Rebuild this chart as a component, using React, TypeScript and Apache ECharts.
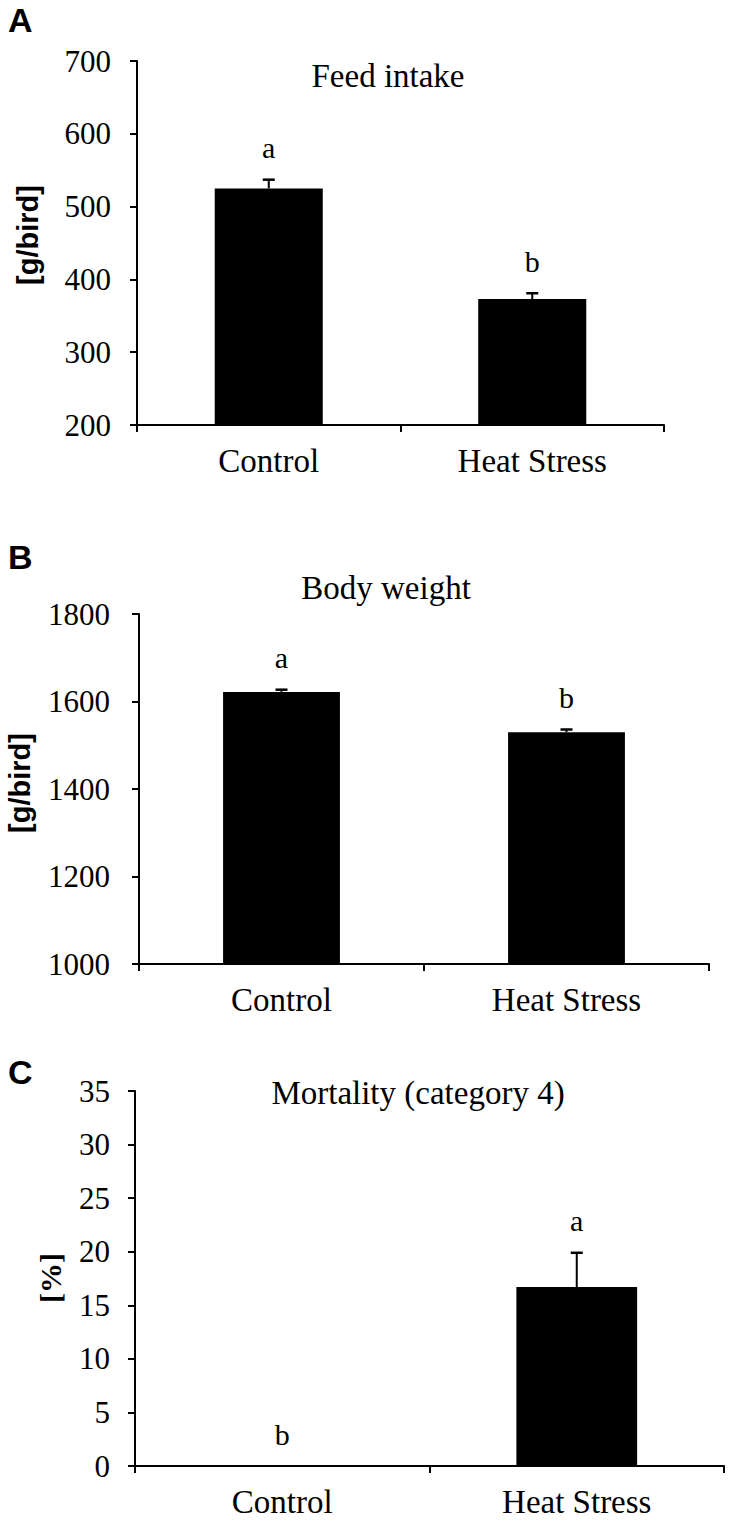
import React, { useEffect, useRef } from "react";
import * as echarts from "echarts";

const categories = ["Control", "Heat Stress"];

const feedIntake = [525, 373];
const feedIntakeSE = [12, 8];
const feedIntakeLetters = ["a", "b"];

const bodyWeight = [1622, 1530];
const bodyWeightSE = [5, 6];
const bodyWeightLetters = ["a", "b"];

const mortality = [0, 16.7];
const mortalitySE = [0, 3.2];
const mortalityLetters = ["b", "a"];

const panelTitles = ["Feed intake", "Body weight", "Mortality (category 4)"];
const panelLetters = ["A", "B", "C"];
const yNames = ["[g/bird]", "[g/bird]", "[%]"];
const yMins = [200, 1000, 0];
const yMaxs = [700, 1800, 35];
const yIntervals = [100, 200, 5];

const SERIF = "Liberation Serif";
const SANS = "Liberation Sans";

export default function App() {
  const ref = useRef<HTMLDivElement>(null);

  useEffect(() => {
    if (!ref.current) return;
    const chart = echarts.init(ref.current, undefined, { renderer: "svg" });

    const grids = [
      { left: 137, top: 61, width: 527, height: 364 },
      { left: 139, top: 614, width: 570, height: 350 },
      { left: 135, top: 1091, width: 589, height: 375 },
    ];
    const labelMargins = [26, 29, 25];
    const values = [feedIntake, bodyWeight, mortality];
    const ses = [feedIntakeSE, bodyWeightSE, mortalitySE];
    const letters = [feedIntakeLetters, bodyWeightLetters, mortalityLetters];

    const titlePos = [
      [388, 76],
      [386, 588],
      [418, 1093],
    ];
    const letterPos = [
      [8, 3],
      [8, 540],
      [8, 1055],
    ];
    const yNamePos = [
      [28, 235],
      [20, 783],
      [50, 1278],
    ];

    const makeRender = (lt: string[]) => (params: any, api: any) => {
      const idx = api.value(0);
      const v = api.value(1);
      const s = api.value(2);
      const base = api.coord([idx, v]);
      const top = api.coord([idx, v + s]);
      const children: any[] = [];
      if (s > 0) {
        children.push({
          type: "line",
          shape: { x1: base[0], y1: base[1], x2: top[0], y2: top[1] },
          style: { stroke: "#000", lineWidth: 2 },
        });
        children.push({
          type: "line",
          shape: { x1: top[0] - 6, y1: top[1], x2: top[0] + 6, y2: top[1] },
          style: { stroke: "#000", lineWidth: 2.5 },
        });
      }
      children.push({
        type: "text",
        x: top[0],
        y: top[1] - 17,
        style: {
          text: lt[params.dataIndex],
          fill: "#000",
          fontSize: 30,
          fontFamily: SERIF,
          align: "center",
          verticalAlign: "bottom",
        },
      });
      return { type: "group", children };
    };

    const option: any = {
      animation: false,
      backgroundColor: "#fff",
      textStyle: { fontFamily: SERIF, color: "#000" },
      grid: grids.map((g) => ({ ...g, containLabel: false })),
      xAxis: grids.map((_, i) => ({
        type: "category",
        gridIndex: i,
        data: categories,
        boundaryGap: true,
        axisLine: { show: true, lineStyle: { color: "#000", width: 2 } },
        axisTick: { show: true, alignWithLabel: false, length: 7, lineStyle: { color: "#000", width: 2 } },
        axisLabel: { color: "#000", fontSize: 33, fontFamily: SERIF, margin: 19 },
        splitLine: { show: false },
      })),
      yAxis: grids.map((_, i) => ({
        type: "value",
        gridIndex: i,
        min: yMins[i],
        max: yMaxs[i],
        interval: yIntervals[i],
        axisLine: { show: true, lineStyle: { color: "#000", width: 2 } },
        axisTick: { show: true, length: 7, lineStyle: { color: "#000", width: 2 } },
        axisLabel: {
          color: "#000",
          fontSize: 31,
          fontFamily: SERIF,
          margin: labelMargins[i],
          formatter: (v: number) => String(v),
        },
        splitLine: { show: false },
      })),
      series: [
        ...grids.map((_, i) => ({
          type: "bar",
          xAxisIndex: i,
          yAxisIndex: i,
          data: values[i],
          barWidth: "41%",
          itemStyle: { color: "#000" },
          z: 2,
        })),
        ...grids.map((_, i) => ({
          type: "custom",
          xAxisIndex: i,
          yAxisIndex: i,
          data: categories.map((_, j) => [j, values[i][j], ses[i][j]]),
          encode: { x: 0, y: 1 },
          renderItem: makeRender(letters[i]),
          z: 5,
          clip: false,
        })),
      ],
      graphic: [
        ...panelTitles.map((t, i) => ({
          type: "text",
          x: titlePos[i][0],
          y: titlePos[i][1],
          style: {
            text: t,
            fill: "#000",
            fontSize: 33,
            fontFamily: SERIF,
            align: "center",
            verticalAlign: "middle",
          },
        })),
        ...panelLetters.map((t, i) => ({
          type: "text",
          x: letterPos[i][0],
          y: letterPos[i][1],
          style: {
            text: t,
            fill: "#000",
            fontSize: 34,
            fontWeight: "bold",
            fontFamily: SANS,
            align: "left",
            verticalAlign: "top",
          },
        })),
        ...yNames.map((t, i) => ({
          type: "text",
          x: yNamePos[i][0],
          y: yNamePos[i][1],
          rotation: Math.PI / 2,
          style: {
            text: t,
            fill: "#000",
            fontSize: i === 2 ? 30 : 29,
            fontWeight: "bold",
            fontFamily: i === 2 ? SERIF : SANS,
            align: "center",
            verticalAlign: "middle",
          },
        })),
      ],
    };

    chart.setOption(option);
    return () => chart.dispose();
  }, []);

  return (
    <div
      ref={ref}
      style={{ position: "absolute", left: 0, top: 0, width: 730, height: 1520 }}
    />
  );
}
